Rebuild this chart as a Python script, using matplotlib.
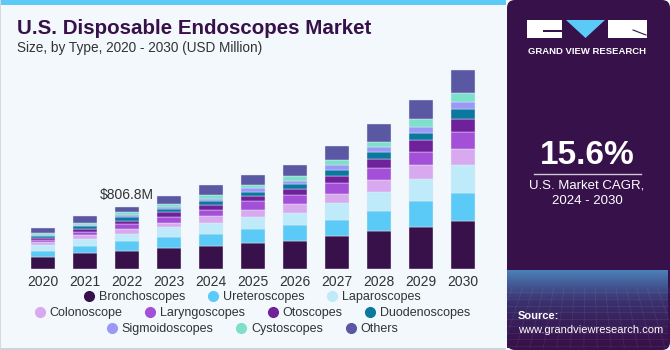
import numpy as np
import matplotlib.pyplot as plt
from matplotlib.patches import FancyBboxPatch, Rectangle, Polygon
from matplotlib.lines import Line2D

plt.rcParams['font.family'] = ['Liberation Sans', 'DejaVu Sans']

# data (USD Million)
years = ['2020', '2021', '2022', '2023', '2024', '2025', '2026', '2027', '2028', '2029', '2030']
bronchoscopes = [160, 208, 238, 273, 299, 338, 359, 424, 489, 546, 619]
ureteroscopes = [78, 95, 121, 138, 152, 182, 208, 217, 260, 333, 373]
laparoscopes = [69, 91, 96, 130, 143, 151, 165, 217, 256, 286, 355]
colonoscope = [44, 48, 60, 61, 95, 100, 108, 121, 156, 182, 217]
laryngoscopes = [26, 39, 74, 74, 82, 113, 117, 134, 147, 178, 221]
otoscopes = [26, 39, 30, 60, 65, 65, 83, 100, 122, 147, 169]
duodenoscopes = [26, 34, 57, 44, 52, 52, 60, 74, 86, 100, 126]
sigmoidoscopes = [13, 22, 30, 30, 26, 47, 48, 60, 65, 78, 95]
cystoscopes = [21, 26, 30, 35, 44, 39, 61, 65, 74, 95, 108]
others = [70, 87, 71, 99, 130, 139, 143, 182, 230, 256, 303]

segment_names = ['Bronchoscopes', 'Ureteroscopes', 'Laparoscopes', 'Colonoscope', 'Laryngoscopes',
                 'Otoscopes', 'Duodenoscopes', 'Sigmoidoscopes', 'Cystoscopes', 'Others']
segment_values = [bronchoscopes, ureteroscopes, laparoscopes, colonoscope, laryngoscopes,
                  otoscopes, duodenoscopes, sigmoidoscopes, cystoscopes, others]
colors = ['#38104a', '#5ccaf7', '#bfeafa', '#d8a9ee', '#a44fd8',
          '#6f209b', '#0a789f', '#9b98f8', '#7de0cb', '#5a57a3']

label_year = '2022'
label_text = '$806.8M'
cagr = '15.6%'

W, H = 670, 350
fig = plt.figure(figsize=(W / 100, H / 100), dpi=100)
fig.patch.set_facecolor('#f3f8fc')

# background / decoration layer in pixel coords
bg = fig.add_axes([0, 0, 1, 1], zorder=0)
bg.set_xlim(0, W)
bg.set_ylim(H, 0)
bg.axis('off')
bg.add_patch(Rectangle((0, 0), 506, 4.5, color='#5ccaf7', lw=0))
bg.add_patch(Rectangle((0, 347.5), 506, 2.5, color='#cfd3d8', lw=0))
bg.add_patch(Rectangle((0, 0), 1.2, 350, color='#d5d9de', lw=0))
bg.add_patch(FancyBboxPatch((507, 0), 163, 350, boxstyle='round,pad=0,rounding_size=8',
                            fc='#37114a', ec='none'))
# gradient at the bottom of the side panel
grad = np.linspace(0, 1, 64).reshape(-1, 1) ** 1.4
cmap = plt.matplotlib.colors.LinearSegmentedColormap.from_list('g', ['#37114a', '#3a3370', '#4c7fb8'])
bg.imshow(grad, extent=(507, 668, 270, 348), cmap=cmap, aspect='auto', zorder=1)
for yy in np.linspace(292, 346, 9):
    bg.plot([507, 668], [yy, yy], color='white', alpha=0.07, lw=0.6, zorder=2)
for xx in np.linspace(512, 668, 16):
    bg.plot([xx, xx + (xx - 588) * 0.3], [288, 348], color='white', alpha=0.07, lw=0.6, zorder=2)

# logo
bg.add_patch(Rectangle((527, 20), 35, 18, color='white', lw=0, zorder=3))
bg.add_patch(Rectangle((543, 30), 19, 2, color='#37114a', lw=0, zorder=4))
bg.add_patch(Polygon([(566, 20), (605, 20), (585.5, 38)], closed=True, color='#5ccaf7', lw=0, zorder=3))
bg.add_patch(Rectangle((608, 20), 39, 18, color='white', lw=0, zorder=3))
bg.plot([633, 646], [30, 35], color='#37114a', lw=0.8, zorder=4)
bg.text(587, 51, 'GRAND VIEW RESEARCH', color='white', fontsize=6.8, fontweight='bold',
        ha='center', va='center', zorder=3)

bg.text(587, 156, cagr, color='white', fontsize=24, fontweight='bold', ha='center', va='center', zorder=3)
bg.plot([534, 641], [173.5, 173.5], color='#cfc6d8', lw=1, zorder=3)
bg.text(587, 186, 'U.S. Market CAGR,', color='white', fontsize=9.5, ha='center', va='center', zorder=3)
bg.text(587, 201, '2024 - 2030', color='white', fontsize=9.5, ha='center', va='center', zorder=3)
bg.text(518, 316, 'Source:', color='white', fontsize=8, fontweight='bold', ha='left', va='center', zorder=3)
bg.text(518, 330, 'www.grandviewresearch.com', color='white', fontsize=8, ha='left', va='center', zorder=3)

# titles
fig.text(17 / W, 1 - 29 / H, 'U.S. Disposable Endoscopes Market', fontsize=14.8, fontweight='bold',
         color='#37114a', ha='left', va='center')
fig.text(17 / W, 1 - 48 / H, 'Size, by Type, 2020 - 2030 (USD Million)', fontsize=9.8,
         color='#333333', ha='left', va='center')

# bar chart
ax = fig.add_axes([22 / W, 1 - 269 / H, 462 / W, 215 / H], zorder=2)
ax.set_facecolor('none')
x = np.arange(len(years))
bottom = np.zeros(len(years))
for name, vals, c in zip(segment_names, segment_values, colors):
    ax.bar(x, vals, 0.57, bottom=bottom, color=c, label=name, edgecolor='#e8eef5', linewidth=0.3)
    bottom += np.array(vals)
ax.set_xlim(-0.5, len(years) - 0.5)
ax.set_ylim(0, 215 * 13)
ax.set_xticks(x)
ax.set_xticklabels(years, fontsize=10, color='#333333')
ax.tick_params(axis='x', length=0, pad=4)
ax.set_yticks([])
for s in ax.spines.values():
    s.set_visible(False)
i = years.index(label_year)
ax.text(x[i], bottom[i] + 70, label_text, ha='center', va='bottom', fontsize=10, color='#333333')

# legend, three centered rows
handles = [Line2D([], [], marker='o', ls='none', markersize=7, color=c, label=n)
           for n, c in zip(segment_names, colors)]
rows = [(handles[0:3], 297), (handles[3:7], 313), (handles[7:10], 329)]
for hs, ypix in rows:
    fig.legend(handles=hs, loc='center', bbox_to_anchor=(252 / W, 1 - ypix / H), ncol=len(hs),
               frameon=False, fontsize=9, handletextpad=0.3, columnspacing=1.7,
               handlelength=1.0, borderaxespad=0, borderpad=0, labelcolor='#333333')

fig.savefig('out.png', dpi=100, facecolor=fig.get_facecolor())
